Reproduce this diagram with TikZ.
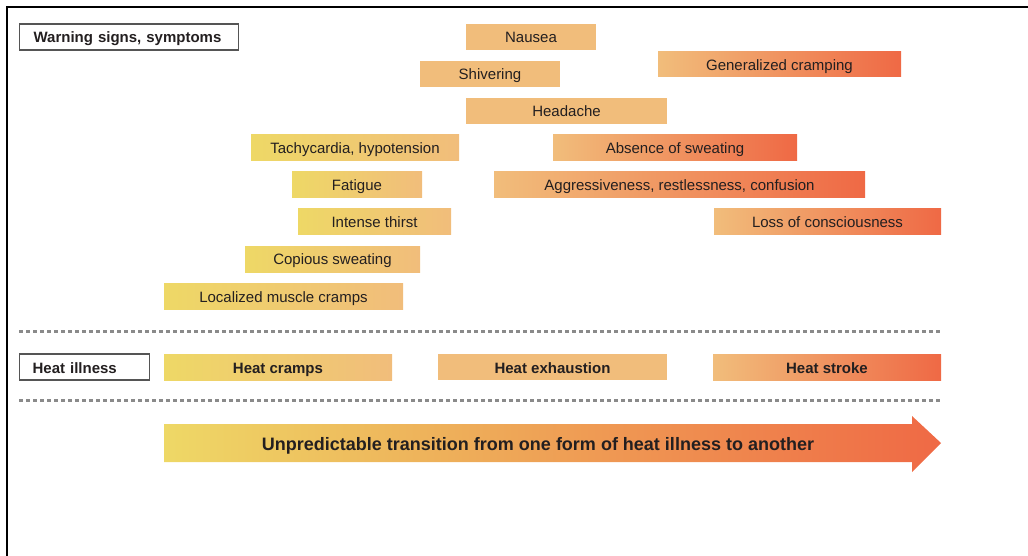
\documentclass[tikz,border=0pt]{standalone}
\usepackage{fontspec}
\setmainfont{Liberation Sans}
\definecolor{cY}{HTML}{EED866}
\definecolor{cO}{HTML}{F1BD7B}
\definecolor{cR}{HTML}{EF6945}
\definecolor{cT}{HTML}{231F20}
\definecolor{cDot}{HTML}{8A8A8A}
\definecolor{cBox}{HTML}{555555}
\begin{document}
\begin{tikzpicture}[x=1pt,y=-1pt,
  bar/.style={inner sep=0pt, minimum height=26pt, text height=12pt, text depth=0pt, text=cT, font=\fontsize{15}{18}\selectfont},
  barY/.style={bar, left color=cY, right color=cO},
  barO/.style={bar, fill=cO},
  barR/.style={bar, left color=cO, right color=cR},
  hbar/.style={font=\fontsize{15}{18}\selectfont\bfseries},
  labelbox/.style={draw=cBox, line width=1.2pt, inner ysep=0pt, minimum height=26pt, text height=12pt, text depth=0pt, align=left, text=cT, font=\fontsize{15}{18}\selectfont\bfseries},
  dotline/.style={cDot, line width=3pt, dash pattern=on 4pt off 3pt}
]
\useasboundingbox (0,0) rectangle (1028,556);
\draw[line width=1.5pt] (7,556) -- (7,7) -- (1028,7);

\node[labelbox, inner xsep=14pt, text width=191pt, anchor=west] (warn) at (19,37) {Warning signs, symptoms};

\node[barO, minimum width=130pt] (nausea) at (531,37) {Nausea};
\node[barO, minimum width=140pt] (shiver) at (490,74) {Shivering};
\node[barR, minimum width=243pt, minimum height=25pt] (gencramp) at (779.5,64.5) {Generalized cramping};
\node[barO, minimum width=201pt] (headache) at (566.5,111) {Headache};
\node[barY, minimum width=208pt] (tachy) at (355,148) {Tachycardia, hypotension};
\node[barR, minimum width=244pt] (absence) at (675,148) {Absence of sweating};
\node[barY, minimum width=130pt] (fatigue) at (357,185) {Fatigue};
\node[barR, minimum width=371pt] (aggr) at (679.5,185) {Aggressiveness, restlessness, confusion};
\node[barY, minimum width=153pt] (thirst) at (374.5,222) {Intense thirst};
\node[barR, minimum width=227pt] (loss) at (827.5,222) {Loss of consciousness};
\node[barY, minimum width=175pt] (copious) at (332.5,259) {Copious sweating};
\node[barY, minimum width=239pt] (localized) at (283.5,296) {Localized muscle cramps};

\coordinate (d1a) at (19,331); \coordinate (d1b) at (941,331);
\draw[dotline] (d1a) -- (d1b);

\node[labelbox, inner xsep=13pt, text width=104pt, anchor=west] (illness) at (19,367) {Heat illness};
\node[barY, hbar, minimum width=228pt] (hcramps) at (278,367) {Heat cramps};
\node[barO, hbar, minimum width=229pt] (hexh) at (552.5,367) {Heat exhaustion};
\node[barR, hbar, minimum width=228pt] (hstroke) at (827,367) {Heat stroke};

\coordinate (d2a) at (19,400); \coordinate (d2b) at (941,400);
\draw[dotline] (d2a) -- (d2b);

\shade[left color=cY, middle color=cO, right color=cR]
  (164,424) -- (912,424) -- (912,416) -- (941,443) -- (912,472) -- (912,462) -- (164,462) -- cycle;
\node[text=cT, inner sep=0pt, text height=14pt, text depth=0pt, font=\fontsize{18}{21}\selectfont\bfseries] (trans) at (538,443) {Unpredictable transition from one form of heat illness to another};
\end{tikzpicture}
\end{document}
